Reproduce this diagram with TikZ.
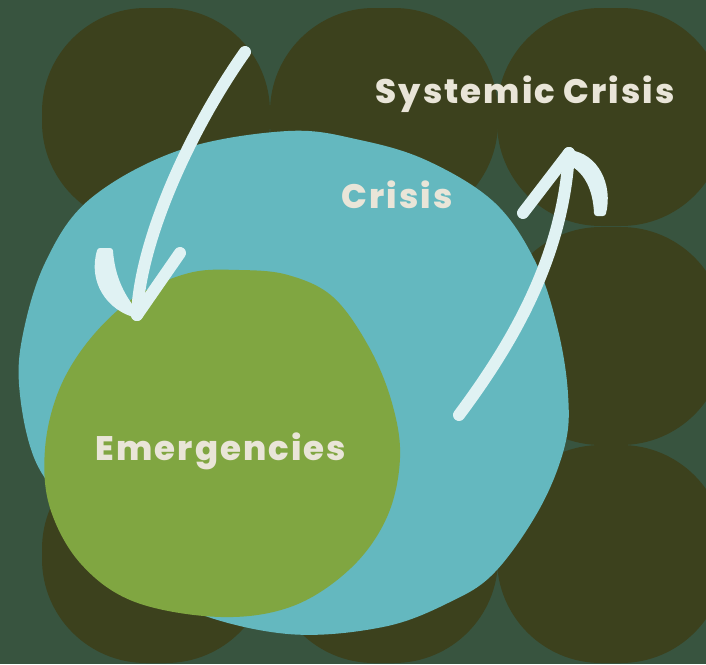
\documentclass[tikz,border=0pt]{standalone}
\usepackage{fontspec}
\setmainfont{Poppins}[BoldFont={Poppins ExtraBold}]
\definecolor{bgcol}{HTML}{38543F}
\definecolor{blobcol}{HTML}{3C411D}
\definecolor{crisiscol}{HTML}{64B8BF}
\definecolor{emercol}{HTML}{80A641}
\definecolor{arrcol}{HTML}{E0F2F3}
\definecolor{txtcol}{HTML}{E9E5D8}
\tikzset{
  arr/.style={draw=arrcol,line width=12pt,line cap=round},
  barb/.style={fill=arrcol,draw=arrcol,line width=6pt,line join=round},
  lbl/.style={anchor=base,inner sep=0pt,text=txtcol,font=\fontsize{34}{40}\selectfont\bfseries\addfontfeature{LetterSpace=6}}
}
\begin{document}
\begin{tikzpicture}[x=1pt,y=-1pt]
	\useasboundingbox (0,0) rectangle (706,664);
	\fill[bgcol] (0,0) rectangle (706,664);
	% background blobs
	\foreach \cx in {156,384,611}\foreach \cy in {117,336,554}\fill[blobcol,rounded corners=104pt] (\cx-114,\cy-109) rectangle (\cx+114,\cy+109);
	% crisis and emergencies
	\fill[crisiscol] plot[smooth cycle,tension=0.6] coordinates {(288,131) (360,140) (428,161) (495,203) (536,263) (558,330) (568,394) (565,445) (540,508) (495,572) (450,602) (383,627) (288,634) (189,610) (113,563) (68,508) (35,460) (20,395) (22,339) (45,263) (90,199) (180,150)};
	\fill[emercol] plot[smooth cycle,tension=0.6] coordinates {(239,270) (288,275) (333,297) (369,347) (392,403) (400,458) (387,517) (351,568) (293,606) (221,617) (135,602) (81,564) (50,508) (45,449) (59,390) (90,339) (135,297) (189,273)};
	\node[lbl] (sys) at (525,103) {Systemic Crisis};
	\node[lbl] (cri) at (397,208) {Crisis};
	\node[lbl] (emg) at (221,460) {Emergencies};
	% arrows
	\coordinate (a1s) at (245,52);
	\coordinate (a1t) at (137,315);
	\coordinate (a1r) at (180,253);
	\coordinate (a2s) at (459,415);
	\coordinate (a2t) at (569,153);
	\coordinate (a2l) at (523,213);
	\draw[arr] (a1s) .. controls (190,130) and (140,240) .. (a1t);
	\draw[arr] (a1r) -- (a1t);
	\draw[barb] (100,251) .. controls (91,281) and (109,308) .. (a1t) .. controls (122,298) and (112,278) .. (110,251) -- cycle;
	\draw[arr] (a2s) .. controls (515,340) and (563,255) .. (a2t);
	\draw[arr] (a2l) -- (a2t);
	\draw[barb] (a2t) .. controls (596,156) and (610,186) .. (603,213) -- (597,213) .. controls (596,190) and (588,172) .. (572,163) -- cycle;
\end{tikzpicture}
\end{document}
